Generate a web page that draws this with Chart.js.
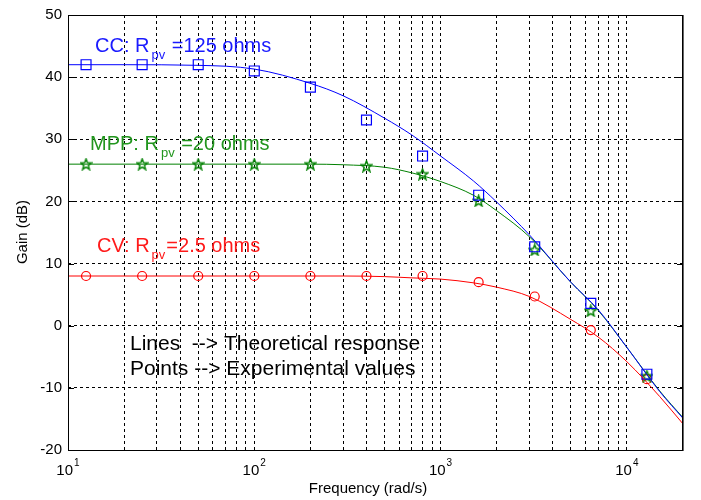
<!DOCTYPE html>
<html>
<head>
<meta charset="utf-8">
<script src="https://cdn.jsdelivr.net/npm/chart.js@4"></script>
<style>
  body { margin: 0; background: #fff; }
  #wrap { width: 701px; height: 500px; }
</style>
</head>
<body>
<div id="wrap"><canvas id="gainChart" width="701" height="500"></canvas></div>
<script>
// theoretical curves
const freqLine = [10, 20, 50, 100, 200, 300, 500, 700, 1000, 1500, 2000, 3000, 5000, 7000, 10000, 15000, 20000];
const ccLine = [42.0, 42.0, 41.9, 41.3, 39.0, 37.0, 33.4, 30.7, 27.3, 23.3, 19.9, 14.6, 7.0, 2.6, -3.5, -10.6, -14.9];
const mppLine = [26.0, 26.0, 26.0, 26.0, 26.0, 25.9, 25.5, 24.6, 23.2, 21.0, 18.5, 14.3, 7.0, 2.5, -3.5, -10.5, -14.8];
const cvLine = [8.0, 8.0, 8.0, 8.0, 8.0, 8.0, 7.9, 7.7, 7.5, 6.9, 6.2, 4.7, 1.0, -1.8, -5.8, -11.4, -15.8];

// experimental points
const freqPts = [12.5, 25, 50, 100, 200, 400, 800, 1600, 3200, 6400, 12800];
const ccPts = [42, 42, 42, 41, 38.4, 33.1, 27.3, 21, 12.7, 3.6, -7.8];
const mppPts = [26, 26, 26, 26, 26, 25.7, 24.4, 20.1, 12.2, 2.4, -8.1];
const cvPts = [8, 8, 8, 8, 8, 8, 8, 7.0, 4.7, -0.7, -8.6];

const yTicks = [-20, -10, 0, 10, 20, 30, 40, 50];
const xDecades = [10, 100, 1000, 10000];

const BLUE = '#0000ff', GREEN = '#008000', RED = '#ff0000';

function toXY(xs, ys) {
    return xs.map((x, i) => ({ x: x, y: ys[i] }));
}

// pentagram marker
function makeStar(color) {
    const c = document.createElement('canvas');
    c.width = 13; c.height = 13;
    const g = c.getContext('2d');
    g.strokeStyle = color;
    g.lineWidth = 1.4;
    g.beginPath();
    for (let i = 0; i < 10; i++) {
        const r = i % 2 === 0 ? 5.8 : 2.4;
        const a = -Math.PI / 2 + i * Math.PI / 5;
        const px = 6.5 + r * Math.cos(a), py = 7 + r * Math.sin(a);
        if (i === 0) g.moveTo(px, py); else g.lineTo(px, py);
    }
    g.closePath();
    g.stroke();
    return c;
}

function lineSet(ys, color) {
    return {
        type: 'line',
        data: toXY(freqLine, ys),
        borderColor: color,
        borderWidth: 1,
        pointRadius: 0,
        cubicInterpolationMode: 'monotone',
        fill: false
    };
}

function pointSet(ys, color, style, radius) {
    return {
        type: 'line',
        data: toXY(freqPts, ys),
        showLine: false,
        borderColor: color,
        backgroundColor: 'rgba(0,0,0,0)',
        pointStyle: style,
        pointRadius: radius,
        pointBorderWidth: 1.2,
        pointBorderColor: color
    };
}

// frame, tick labels, annotations
const decorPlugin = {
    id: 'decor',
    afterDraw(chart) {
        const ctx = chart.ctx;
        const a = chart.chartArea;
        const xs = chart.scales.x, ys = chart.scales.y;
        ctx.save();
        ctx.strokeStyle = '#000';
        ctx.lineWidth = 1;
        ctx.strokeRect(a.left + 0.5, a.top + 0.5, a.right - a.left - 1, a.bottom - a.top);
        ctx.strokeStyle = '#666';
        ctx.beginPath();
        ctx.moveTo(a.right + 0.5, a.top);
        ctx.lineTo(a.right + 0.5, a.bottom + 1);
        ctx.stroke();
        ctx.strokeStyle = '#000';

        // inner tick marks
        ctx.beginPath();
        yTicks.forEach(v => {
            const py = Math.round(ys.getPixelForValue(v)) + 0.5;
            ctx.moveTo(a.left, py); ctx.lineTo(a.left + 6, py);
            ctx.moveTo(a.right, py); ctx.lineTo(a.right - 6, py);
        });
        ctx.stroke();

        // x labels 10^n
        ctx.fillStyle = '#000';
        ctx.textBaseline = 'alphabetic';
        xDecades.forEach((v, i) => {
            const px = xs.getPixelForValue(v);
            ctx.font = '15px "Liberation Sans", Arial, sans-serif';
            ctx.textAlign = 'right';
            ctx.fillText('10', px + 5, a.bottom + 25);
            ctx.font = '10px "Liberation Sans", Arial, sans-serif';
            ctx.textAlign = 'left';
            ctx.fillText(String(i + 1), px + 6, a.bottom + 16);
        });

        // axis titles
        ctx.font = '15px "Liberation Sans", Arial, sans-serif';
        ctx.textAlign = 'center';
        ctx.fillText('Frequency (rad/s)', 368, 493);
        ctx.save();
        ctx.translate(27, 232);
        ctx.rotate(-Math.PI / 2);
        ctx.fillText('Gain (dB)', 0, 0);
        ctx.restore();

        // series labels with subscript
        function label(x, y, head, tail, color) {
            ctx.fillStyle = color;
            ctx.textAlign = 'left';
            ctx.font = '20px "Liberation Sans", Arial, sans-serif';
            ctx.fillText(head, x, y);
            let cx = x + ctx.measureText(head).width + 2;
            ctx.font = '13px "Liberation Sans", Arial, sans-serif';
            ctx.fillText('pv', cx, y + 7);
            cx += ctx.measureText('pv').width + 1;
            ctx.font = '20px "Liberation Sans", Arial, sans-serif';
            ctx.fillText(tail, cx, y);
        }
        label(95, 52, 'CC: R', ' =125 ohms', '#1a1aff');
        label(90, 150, 'MPP: R', ' =20 ohms', '#22961e');
        label(97, 252, 'CV: R', '=2.5 ohms', '#ff1a1a');

        ctx.fillStyle = '#000';
        ctx.font = '21px "Liberation Sans", Arial, sans-serif';
        ctx.fillText('Lines  --> Theoretical response', 130, 350);
        ctx.fillText('Points --> Experimental values', 130, 375);
        ctx.restore();
    }
};

new Chart(document.getElementById('gainChart'), {
    type: 'line',
    data: {
        datasets: [
            lineSet(ccLine, BLUE),
            lineSet(mppLine, GREEN),
            lineSet(cvLine, RED),
            pointSet(ccPts, BLUE, 'rect', 7),
            pointSet(mppPts, GREEN, makeStar(GREEN), 6),
            pointSet(cvPts, RED, 'circle', 4.5)
        ]
    },
    options: {
        responsive: false,
        animation: false,
        layout: { padding: { left: 0, right: 18, top: 15, bottom: 0 } },
        plugins: { legend: { display: false }, tooltip: { enabled: false } },
        scales: {
            x: {
                type: 'logarithmic',
                min: 10,
                max: 20000,
                afterBuildTicks(scale) {
                    const t = [];
                    xDecades.forEach(d => {
                        for (let k = 1; k < 10; k++) {
                            if (d * k < 20000) t.push({ value: d * k });
                        }
                    });
                    scale.ticks = t;
                },
                afterFit(scale) { scale.height = 50; },
                ticks: { display: false },
                grid: { color: '#000', lineWidth: 1, drawTicks: false },
                border: { display: false, dash: [3, 3] }
            },
            y: {
                min: -20,
                max: 50,
                afterBuildTicks(scale) {
                    scale.ticks = yTicks.map(v => ({ value: v }));
                },
                afterFit(scale) { scale.width = 68; },
                ticks: {
                    color: '#000',
                    padding: 6,
                    font: { family: '"Liberation Sans", Arial, sans-serif', size: 15 }
                },
                grid: { color: '#000', lineWidth: 1, drawTicks: false },
                border: { display: false, dash: [3, 3] }
            }
        }
    },
    plugins: [decorPlugin]
});
</script>
</body>
</html>
